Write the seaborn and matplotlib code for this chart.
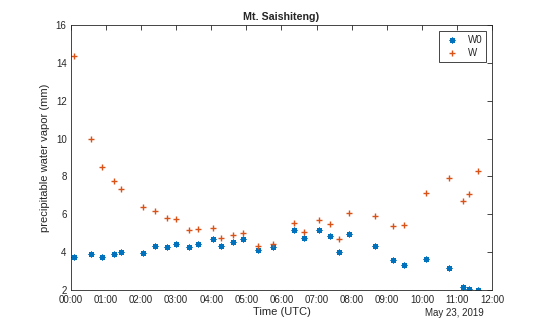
import pandas as pd
import matplotlib
matplotlib.use('Agg')
import matplotlib.pyplot as plt
import matplotlib.dates as mdates
import seaborn as sns

# observation times (UTC) on May 23, 2019
times = ['00:06', '00:34', '00:53', '01:14', '01:25', '02:04', '02:24', '02:44',
         '03:00', '03:22', '03:37', '04:03', '04:17', '04:37', '04:55', '05:20',
         '05:45', '06:22', '06:38', '07:04', '07:23', '07:39', '07:56', '08:40',
         '09:10', '09:29', '10:07', '10:46', '11:11', '11:21', '11:36']

# precipitable water vapor (mm)
w0 = [3.73, 3.90, 3.73, 3.90, 4.02, 3.95, 4.30, 4.27, 4.43, 4.25, 4.41, 4.67,
      4.30, 4.55, 4.69, 4.10, 4.27, 5.18, 4.72, 5.18, 4.85, 4.00, 4.97, 4.33,
      3.56, 3.29, 3.64, 3.18, 2.17, 2.05, 2.01]
w = [14.39, 10.00, 8.49, 7.77, 7.33, 6.37, 6.19, 5.81, 5.76, 5.16, 5.23, 5.27,
     4.76, 4.92, 5.02, 4.32, 4.44, 5.51, 5.07, 5.71, 5.50, 4.67, 6.04, 5.88,
     5.35, 5.41, 7.10, 7.91, 6.71, 7.06, 8.30]

yticks = [2, 4, 6, 8, 10, 12, 14, 16]

df = pd.DataFrame({'time': pd.to_datetime(['2019-05-23 ' + t for t in times]),
                   'W0': w0, 'W': w})

sns.set_style('white')
plt.rcParams['font.family'] = ['Liberation Sans', 'DejaVu Sans']

fig = plt.figure(figsize=(5.45, 3.26), dpi=100)
ax = fig.add_axes([0.130, 0.111, 0.773, 0.812])

sns.scatterplot(data=df, x='time', y='W0', ax=ax, marker=(8, 2, 0), s=12,
                color='#0072BD', linewidth=0.9, edgecolor='#0072BD', label='W0')
sns.scatterplot(data=df, x='time', y='W', ax=ax, marker='+', s=22,
                color='#D95319', edgecolor='#D95319', linewidth=1.0, label='W')

start = pd.Timestamp('2019-05-23 00:00')
ax.set_xlim(start, start + pd.Timedelta(hours=12))
ax.set_ylim(2, 16)
ax.set_yticks(yticks)
ax.xaxis.set_major_locator(mdates.HourLocator(interval=1))
ax.xaxis.set_major_formatter(mdates.DateFormatter('%H:%M'))

ax.tick_params(direction='in', length=3.5, width=0.6, labelsize=7,
               colors='#262626', top=True, right=True)
ax.tick_params(axis='x', pad=4)
ax.tick_params(axis='y', pad=3)
for s in ax.spines.values():
    s.set_color('#262626')
    s.set_linewidth(0.6)

ax.set_title('Mt. Saishiteng)', fontsize=7.7, fontweight='bold', pad=4)
ax.set_xlabel('Time (UTC)', fontsize=8, color='#262626', labelpad=1)
ax.set_ylabel('precipitable water vapor (mm)', fontsize=8, color='#262626',
              labelpad=4)
ax.text(0.91, -0.088, 'May 23, 2019', transform=ax.transAxes, ha='center',
        va='center', fontsize=7, color='#262626')

leg = ax.legend(loc='upper right', fontsize=7, fancybox=False, framealpha=1,
                edgecolor='#262626', borderpad=0.4, handletextpad=0.6,
                borderaxespad=0.6, labelspacing=0.3)
leg.get_frame().set_linewidth(0.6)

fig.savefig('out.png', dpi=100)
